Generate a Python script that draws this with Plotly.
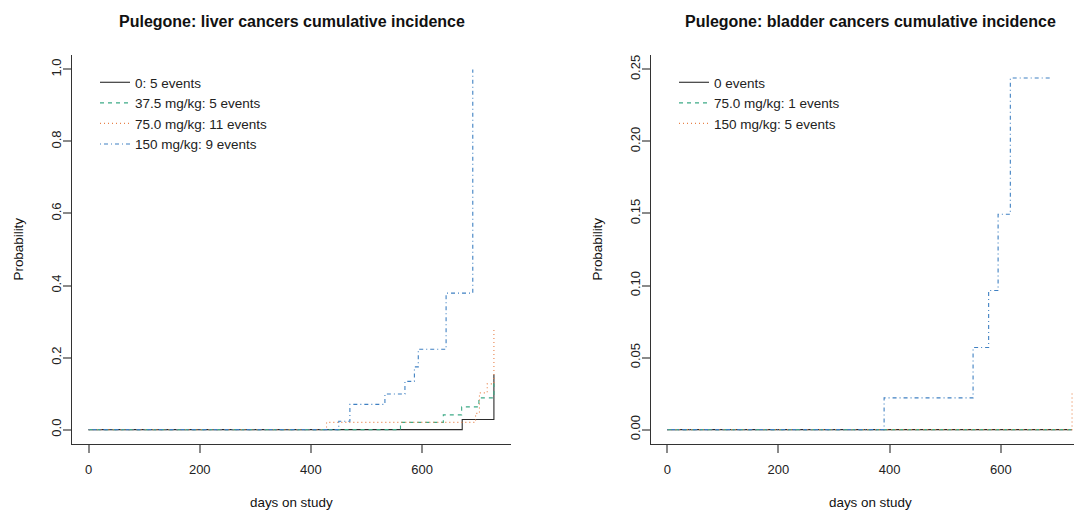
import plotly.graph_objects as go

W, H = 1074, 510

# ---------------- data ----------------
# Left: liver cancers (days, cumulative probability)
liver_0_days = [0, 672, 729]
liver_0_prob = [0, 0.028, 0.153]
liver_375_days = [0, 561, 638, 671, 702, 729]
liver_375_prob = [0, 0.020, 0.041, 0.063, 0.088, 0.128]
liver_75_days = [0, 428, 696, 703, 717, 729]
liver_75_prob = [0, 0.020, 0.045, 0.102, 0.127, 0.284]
liver_150_days = [0, 450, 470, 533, 569, 586, 593, 643, 691]
liver_150_prob = [0, 0.023, 0.070, 0.099, 0.134, 0.174, 0.223, 0.379, 1.0]
liver_labels = ["0: 5 events", "37.5 mg/kg: 5 events", "75.0 mg/kg: 11 events", "150 mg/kg: 9 events"]

# Right: bladder cancers
bladder_0_days = [0, 728]
bladder_0_prob = [0, 0]
bladder_75_days = [0, 728]
bladder_75_prob = [0, 0]
bladder_150_days = [0, 728]
bladder_150_prob = [0, 0.0254]
bladder_x_days = [0, 390, 550, 578, 595, 617, 692]
bladder_x_prob = [0, 0.022, 0.057, 0.0965, 0.1495, 0.244, 0.244]
bladder_labels = ["0 events", "75.0 mg/kg: 1 events", "150 mg/kg: 5 events"]

x_ticks = [0, 200, 400, 600]
liver_y_ticks = [0.0, 0.2, 0.4, 0.6, 0.8, 1.0]
bladder_y_ticks = [0.00, 0.05, 0.10, 0.15, 0.20, 0.25]

# ---------------- styles ----------------
C_BLACK = "#2b2b2b"
C_GREEN = "#3daa86"
C_ORANGE = "#e8824a"
C_BLUE = "#3f80c2"
D_SOLID = "solid"
D_DASH = "4px,4px"
D_DOT = "1px,3px"
D_DASHDOT = "1px,3px,4px,3px"
FONT = "Liberation Sans, Arial, Helvetica, sans-serif"
TICK_SIZE = 13
LEG_SIZE = 13.5

fig = go.Figure()

def add(xs, ys, color, dash, name, xa, ya, legend, show=True):
    fig.add_trace(go.Scatter(
        x=xs, y=ys, mode="lines", line=dict(color=color, dash=dash, width=1.1, shape="hv"),
        name=name, xaxis=xa, yaxis=ya, legend=legend, showlegend=show,
    ))

add(liver_0_days, liver_0_prob, C_BLACK, D_SOLID, liver_labels[0], "x", "y", "legend")
add(liver_375_days, liver_375_prob, C_GREEN, D_DASH, liver_labels[1], "x", "y", "legend")
add(liver_75_days, liver_75_prob, C_ORANGE, D_DOT, liver_labels[2], "x", "y", "legend")
add(liver_150_days, liver_150_prob, C_BLUE, D_DASHDOT, liver_labels[3], "x", "y", "legend")

add(bladder_0_days, bladder_0_prob, C_BLACK, D_SOLID, bladder_labels[0], "x2", "y2", "legend2")
add(bladder_75_days, bladder_75_prob, C_GREEN, D_DASH, bladder_labels[1], "x2", "y2", "legend2")
add(bladder_150_days, bladder_150_prob, C_ORANGE, D_DOT, bladder_labels[2], "x2", "y2", "legend2")
add(bladder_x_days, bladder_x_prob, C_BLUE, D_DASHDOT, "", "x2", "y2", "legend2", show=False)

# ---------------- layout ----------------
ydom = [1 - 444 / H, 1 - 55 / H]
common_x = dict(showgrid=False, zeroline=False, showline=True, linecolor="#333333", linewidth=1,
                ticks="outside", ticklen=8, tickcolor="#8a8a8a", tickwidth=1.5,
                tickvals=x_ticks, ticktext=[str(v) for v in x_ticks],
                tickfont=dict(family=FONT, size=TICK_SIZE, color="#222222"), ticklabelstandoff=5)
common_y = dict(showgrid=False, zeroline=False, showline=True, linecolor="#333333", linewidth=1,
                ticks="outside", ticklen=8, tickcolor="#8a8a8a", tickwidth=1.5,
                tickangle=-90, tickfont=dict(family=FONT, size=TICK_SIZE, color="#222222"),
                domain=ydom, ticklabelstandoff=-3)

fig.update_layout(
    width=W, height=H, margin=dict(l=0, r=0, t=0, b=0),
    paper_bgcolor="white", plot_bgcolor="white",
    font=dict(family=FONT, size=12, color="#222222"),
    xaxis=dict(common_x, domain=[72.3 / W, 510.7 / W], range=[-29.2, 759.2], anchor="y"),
    yaxis=dict(common_y, range=[-0.04, 1.04], anchor="x",
               tickvals=liver_y_ticks, ticktext=[f"{v:.1f}" for v in liver_y_ticks]),
    xaxis2=dict(common_x, domain=[651 / W, 1.0], range=[-29.2, 731.5], anchor="y2"),
    yaxis2=dict(common_y, range=[-0.01, 0.26], anchor="x2",
                tickvals=bladder_y_ticks, ticktext=[f"{v:.2f}" for v in bladder_y_ticks]),
    legend=dict(x=95 / W, y=1 - 67 / H, xanchor="left", yanchor="top", bgcolor="rgba(0,0,0,0)",
                font=dict(family=FONT, size=LEG_SIZE, color="#222222"), tracegroupgap=0),
    legend2=dict(x=674 / W, y=1 - 67 / H, xanchor="left", yanchor="top", bgcolor="rgba(0,0,0,0)",
                 font=dict(family=FONT, size=LEG_SIZE, color="#222222"), tracegroupgap=0),
    showlegend=True,
)

ann = [
    dict(text="<b>Pulegone: liver cancers cumulative incidence</b>", x=291.5 / W, y=1 - 22 / H, size=16),
    dict(text="<b>Pulegone: bladder cancers cumulative incidence</b>", x=870.5 / W, y=1 - 22 / H, size=16),
    dict(text="days on study", x=291.5 / W, y=1 - 502 / H, size=13.4),
    dict(text="days on study", x=870.5 / W, y=1 - 502 / H, size=13.4),
    dict(text="Probability", x=18 / W, y=1 - 249.5 / H, textangle=-90, size=13.4),
    dict(text="Probability", x=597 / W, y=1 - 249.5 / H, textangle=-90, size=13.4),
]
for a in ann:
    fig.add_annotation(xref="paper", yref="paper", xanchor="center", yanchor="middle",
                       showarrow=False, text=a["text"], x=a["x"], y=a["y"],
                       textangle=a.get("textangle", 0),
                       font=dict(family=FONT, color="#111111", size=a["size"]))

fig.write_html("out.html")
